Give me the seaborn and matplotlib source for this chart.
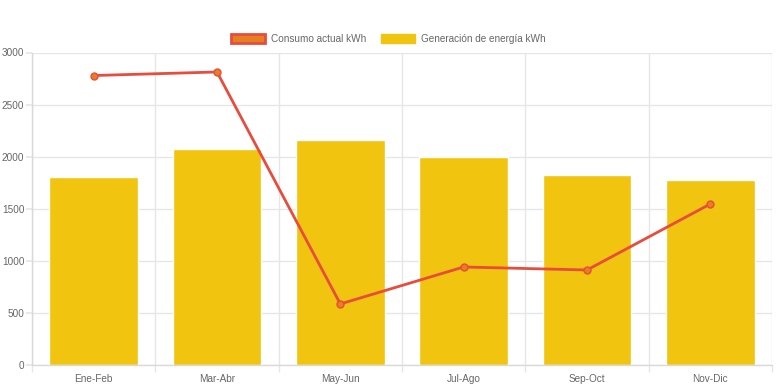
import numpy as np
import matplotlib
matplotlib.use("Agg")
import matplotlib.pyplot as plt
import seaborn as sns
from matplotlib.patches import Patch
from matplotlib.ticker import FixedLocator

# Data
periodos = ["Ene-Feb", "Mar-Abr", "May-Jun", "Jul-Ago", "Sep-Oct", "Nov-Dic"]
generacion = [1805, 2074, 2160, 1997, 1824, 1776]
consumo = [2779, 2813, 586, 941, 912, 1546]

sns.set_theme(style="white")
plt.rcParams['font.family'] = ['Liberation Sans', 'DejaVu Sans']

fig = plt.figure(figsize=(7.76, 3.88), dpi=100)
ax = fig.add_axes([32/776, 23/388, 740/776, 312.5/388])

sns.barplot(x=periodos, y=generacion, color="#f1c40f", saturation=1, width=0.72, ax=ax)
ax.plot(range(len(periodos)), consumo, color="#e74c3c", lw=2, marker="o",
        markersize=5, markerfacecolor="#e67e22", markeredgecolor="#e74c3c",
        markeredgewidth=1, zorder=5)

ax.set_ylim(0, 3000)
ax.set_xlim(-0.5, len(periodos) - 0.5)
ax.set_yticks(np.arange(0, 3001, 500))
ax.xaxis.set_minor_locator(FixedLocator(np.arange(-0.5, len(periodos), 1)))

ax.grid(False)
ax.grid(True, axis="y", which="major", color="#e6e6e6", lw=1)
ax.grid(True, axis="x", which="minor", color="#e6e6e6", lw=1)
ax.set_axisbelow(True)

for side in ["top", "right"]:
    ax.spines[side].set_visible(False)
for side in ["left", "bottom"]:
    ax.spines[side].set_color("#d9d9d9")
    ax.spines[side].set_linewidth(1)

ax.tick_params(axis="y", which="major", length=4.5, color="#e6e6e6", labelsize=7.2,
               labelcolor="#666666", pad=1, left=True)
ax.tick_params(axis="x", which="major", length=0, labelsize=7.2, labelcolor="#666666", pad=6.5)
ax.tick_params(axis="x", which="minor", length=5, color="#e6e6e6", bottom=True)
ax.set_xlabel("")
ax.set_ylabel("")

handles = [
    Patch(facecolor="#e67e22", edgecolor="#e74c3c", linewidth=2, label="Consumo actual kWh"),
    Patch(facecolor="#f1c40f", edgecolor="#f1c40f", linewidth=1, label="Generación de energía kWh"),
]
fig.legend(handles=handles, loc="center", bbox_to_anchor=(0.5, 1 - 39/388), ncol=2,
           frameon=False, fontsize=7.2, handlelength=3.4, handleheight=1.0,
           handletextpad=0.6, columnspacing=1.5, labelcolor="#666666")

fig.savefig("out.png", dpi=100)
